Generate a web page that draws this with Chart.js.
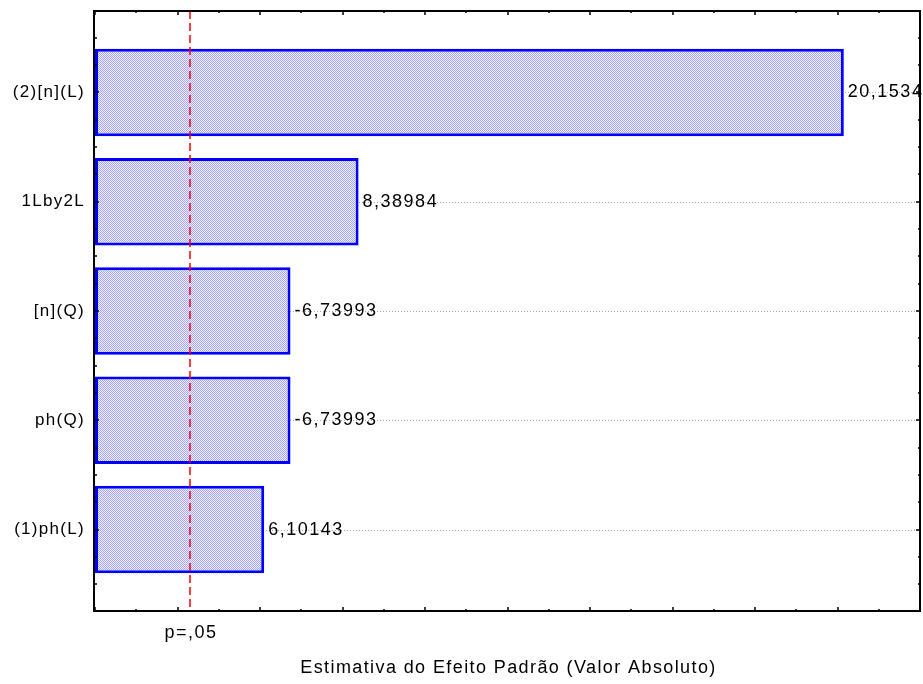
<!DOCTYPE html>
<html>
<head>
<meta charset="utf-8">
<script src="https://cdn.jsdelivr.net/npm/chart.js@4"></script>
<style>
  html, body { margin: 0; padding: 0; background: #fff; }
  #wrap { width: 923px; height: 684px; }
</style>
</head>
<body>
<div id="wrap"><canvas id="pareto"></canvas></div>
<script>
// effects, top to bottom
var effectNames = ['(2)[n](L)', '1Lby2L', '[n](Q)', 'ph(Q)', '(1)ph(L)'];
var effectValues = [20.1534, 8.38984, -6.73993, -6.73993, 6.10143];
var effectLabels = ['20,1534', '8,38984', '-6,73993', '-6,73993', '6,10143'];
var pCritical = 4.3027;
var pLabel = 'p=,05';
var axisTitle = 'Estimativa do Efeito Padrão (Valor Absoluto)';
var xMin = 2, xMax = 22;

var FONT_FAMILY = '"Liberation Sans", Arial, sans-serif';

function hatchPattern() {
    var c = document.createElement('canvas');
    c.width = 2; c.height = 2;
    var g = c.getContext('2d');
    g.fillStyle = '#f0f0ff';
    g.fillRect(0, 0, 2, 2);
    g.fillStyle = '#a4a4fa';
    g.fillRect(0, 0, 1, 1);
    g.fillRect(1, 1, 1, 1);
    return g.createPattern(c, 'repeat');
}

var paretoDecor = {
    id: 'paretoDecor',
    beforeDatasetsDraw: function (chart) {
        var ctx = chart.ctx, a = chart.chartArea, ys = chart.scales.y;
        ctx.save();
        ctx.strokeStyle = '#a8a8a8';
        ctx.lineWidth = 1;
        ctx.setLineDash([1, 2]);
        effectNames.forEach(function (n, i) {
            var y = Math.round(ys.getPixelForValue(i)) + 0.5;
            ctx.beginPath();
            ctx.moveTo(a.left, y);
            ctx.lineTo(a.right, y);
            ctx.stroke();
        });
        ctx.restore();
    },
    afterDatasetsDraw: function (chart) {
        var ctx = chart.ctx, a = chart.chartArea;
        var xs = chart.scales.x, ys = chart.scales.y;
        ctx.save();

        // critical value line
        var px = xs.getPixelForValue(pCritical);
        ctx.strokeStyle = '#ff0000';
        ctx.lineWidth = 1.5;
        ctx.setLineDash([8, 4]);
        ctx.beginPath();
        ctx.moveTo(px, a.top);
        ctx.lineTo(px, a.bottom);
        ctx.stroke();
        ctx.setLineDash([]);

        // frame
        ctx.strokeStyle = '#000';
        ctx.lineWidth = 2;
        ctx.strokeRect(a.left - 1, a.top, a.right - a.left + 1, a.bottom - a.top);

        // inward tick marks
        ctx.lineWidth = 1.5;
        ctx.beginPath();
        for (var v = xMin; v <= xMax; v++) {
            var x = Math.round(xs.getPixelForValue(v));
            var len = v % 2 === 0 ? 4 : 2;
            ctx.moveTo(x, a.top); ctx.lineTo(x, a.top + len);
            ctx.moveTo(x, a.bottom); ctx.lineTo(x, a.bottom - len);
        }
        for (var t = -0.5; t <= effectNames.length - 0.5; t += 0.25) {
            var y = Math.round(ys.getPixelForValue(t));
            var l2 = Number.isInteger(t) ? 4 : 2;
            ctx.moveTo(a.left, y); ctx.lineTo(a.left + l2, y);
            ctx.moveTo(a.right, y); ctx.lineTo(a.right - l2, y);
        }
        ctx.stroke();

        // text
        ctx.fillStyle = '#000';
        ctx.textBaseline = 'middle';

        ctx.font = '17px ' + FONT_FAMILY;
        ctx.letterSpacing = '1.3px';
        ctx.textAlign = 'right';
        effectNames.forEach(function (n, i) {
            ctx.fillText(n, a.left - 10, ys.getPixelForValue(i));
        });

        ctx.font = '18px ' + FONT_FAMILY;
        ctx.letterSpacing = '1.5px';
        ctx.textAlign = 'left';
        chart.getDatasetMeta(0).data.forEach(function (bar, i) {
            ctx.fillText(effectLabels[i], bar.x + 4, bar.y);
        });

        ctx.textAlign = 'center';
        ctx.fillText(pLabel, px + 1, a.bottom + 22);
        ctx.letterSpacing = '1.4px';
        ctx.fillText(axisTitle, (a.left + a.right) / 2 + 1, a.bottom + 57);
        ctx.restore();
    }
};

new Chart(document.getElementById('pareto'), {
    type: 'bar',
    data: {
        datasets: [{
            data: effectValues.map(function (v, i) { return { x: Math.abs(v), y: i }; }),
            base: xMin,
            backgroundColor: hatchPattern(),
            borderColor: '#0000ff',
            borderWidth: 3,
            borderSkipped: false,
            categoryPercentage: 1,
            barPercentage: 0.8
        }]
    },
    options: {
        indexAxis: 'y',
        responsive: true,
        maintainAspectRatio: false,
        animation: false,
        layout: { padding: { left: 95, right: 3, top: 11, bottom: 73 } },
        plugins: { legend: { display: false }, tooltip: { enabled: false } },
        scales: {
            x: { type: 'linear', min: xMin, max: xMax, bounds: 'data', display: false },
            y: {
                type: 'linear', reverse: true, offset: false, bounds: 'data',
                min: -0.745, max: effectNames.length - 0.255, display: false,
                afterBuildTicks: function (scale) {
                    scale.ticks = effectNames.map(function (n, i) { return { value: i }; });
                }
            }
        }
    },
    plugins: [paretoDecor]
});
</script>
</body>
</html>
